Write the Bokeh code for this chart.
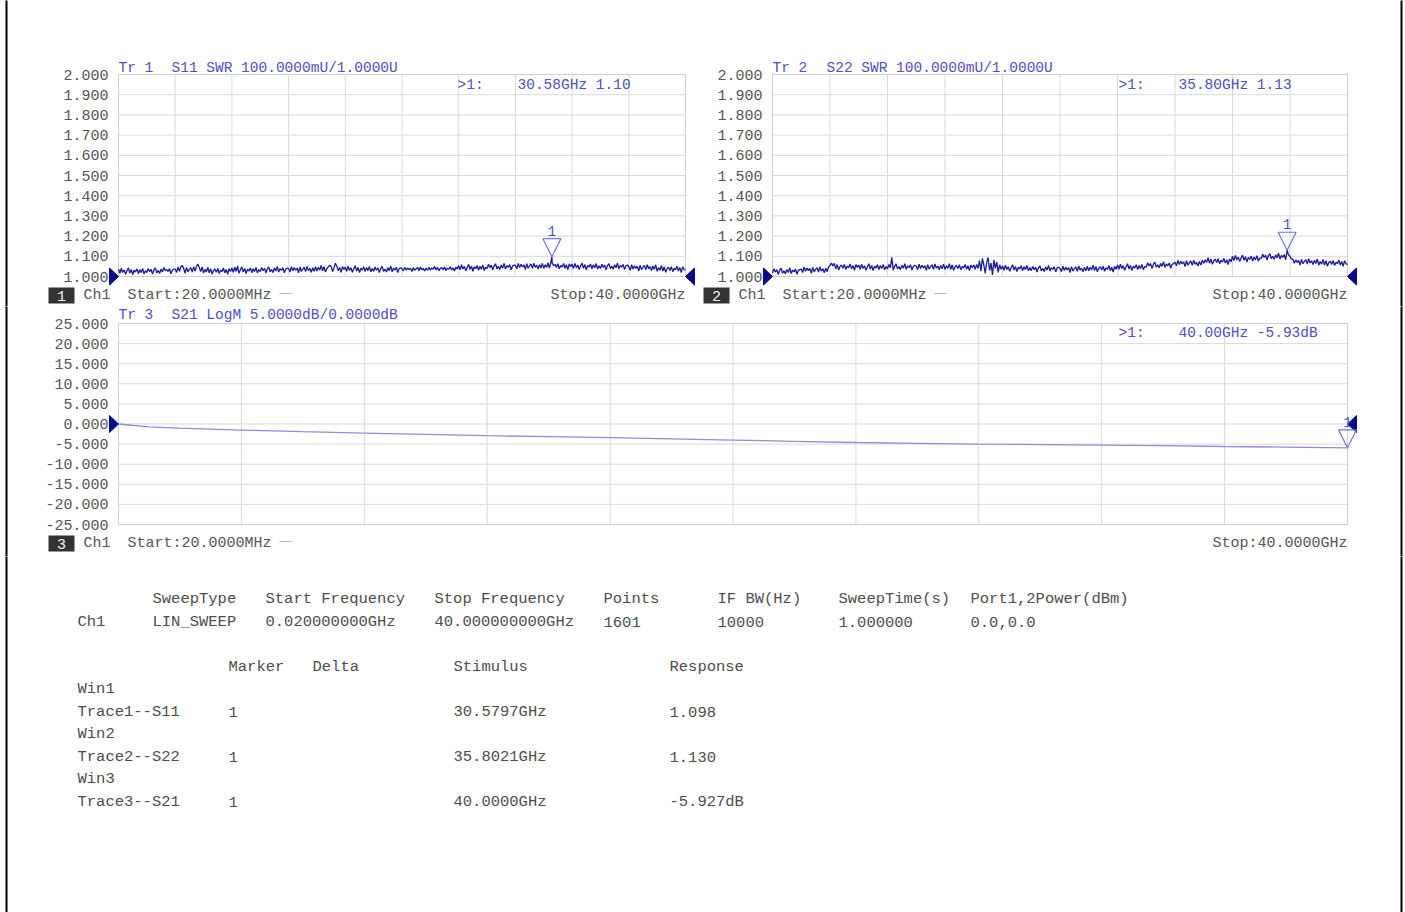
import numpy as np
from bokeh.core.properties import value
from bokeh.embed import file_html
from bokeh.layouts import column, row
from bokeh.models import (ColumnDataSource, FixedTicker, Label, LinearAxis, PolyAnnotation,
                          PrintfTickFormatter, Range1d)
from bokeh.plotting import figure
from bokeh.resources import INLINE

# ---------------- channel 1 sweep settings ----------------
start_ghz = 0.02
stop_ghz = 40.0
sweep_type = "LIN_SWEEP"
sweep_points = 1601
if_bw_hz = 10000
sweep_time_s = 1.0
port_power_dbm = [0.0, 0.0]

# trace samples, one every ~0.1 GHz across the sweep
trace_freq_ghz = np.linspace(start_ghz, stop_ghz, 401)

# Tr 1: S11 SWR
s11_swr = [
    1.037, 1.016, 1.041, 1.020, 1.033, 1.011, 1.028, 1.043, 1.017, 1.035, 1.009, 1.031, 1.022, 1.038, 1.014, 1.034, 1.019, 1.040, 1.013, 1.029,
    1.019, 1.040, 1.024, 1.036, 1.012, 1.033, 1.043, 1.018, 1.030, 1.015, 1.037, 1.022, 1.045, 1.030, 1.034, 1.025, 1.039, 1.013, 1.032, 1.036,
    1.037, 1.020, 1.047, 1.026, 1.048, 1.055, 1.040, 1.016, 1.045, 1.023, 1.035, 1.044, 1.022, 1.048, 1.027, 1.050, 1.062, 1.045, 1.024, 1.047,
    1.017, 1.035, 1.022, 1.045, 1.018, 1.039, 1.012, 1.030, 1.037, 1.021, 1.040, 1.015, 1.032, 1.024, 1.042, 1.018, 1.035, 1.011, 1.039, 1.025,
    1.042, 1.021, 1.046, 1.025, 1.052, 1.016, 1.033, 1.048, 1.022, 1.040, 1.014, 1.036, 1.027, 1.043, 1.019, 1.039, 1.024, 1.045, 1.018, 1.034,
    1.024, 1.045, 1.029, 1.041, 1.017, 1.038, 1.048, 1.023, 1.035, 1.020, 1.042, 1.027, 1.050, 1.022, 1.039, 1.030, 1.044, 1.018, 1.037, 1.041,
    1.039, 1.022, 1.049, 1.028, 1.044, 1.031, 1.042, 1.018, 1.047, 1.025, 1.037, 1.046, 1.024, 1.050, 1.029, 1.040, 1.021, 1.043, 1.026, 1.049,
    1.027, 1.045, 1.032, 1.055, 1.028, 1.049, 1.022, 1.040, 1.047, 1.056, 1.050, 1.025, 1.042, 1.066, 1.052, 1.028, 1.045, 1.021, 1.049, 1.035,
    1.047, 1.026, 1.051, 1.030, 1.043, 1.021, 1.038, 1.053, 1.027, 1.045, 1.019, 1.041, 1.032, 1.048, 1.024, 1.044, 1.029, 1.050, 1.023, 1.039,
    1.026, 1.047, 1.031, 1.043, 1.019, 1.040, 1.050, 1.025, 1.037, 1.022, 1.044, 1.029, 1.052, 1.024, 1.041, 1.032, 1.046, 1.020, 1.039, 1.043,
    1.039, 1.028, 1.046, 1.032, 1.043, 1.034, 1.041, 1.025, 1.045, 1.030, 1.038, 1.044, 1.029, 1.047, 1.033, 1.040, 1.027, 1.042, 1.031, 1.046,
    1.031, 1.043, 1.035, 1.050, 1.032, 1.046, 1.028, 1.040, 1.045, 1.034, 1.047, 1.030, 1.041, 1.036, 1.048, 1.032, 1.043, 1.027, 1.046, 1.037,
    1.054, 1.033, 1.058, 1.037, 1.050, 1.028, 1.045, 1.060, 1.034, 1.052, 1.026, 1.048, 1.039, 1.055, 1.031, 1.051, 1.036, 1.057, 1.030, 1.046,
    1.039, 1.060, 1.044, 1.056, 1.032, 1.053, 1.063, 1.038, 1.050, 1.035, 1.057, 1.042, 1.065, 1.037, 1.054, 1.045, 1.059, 1.033, 1.052, 1.056,
    1.055, 1.038, 1.065, 1.044, 1.060, 1.047, 1.058, 1.034, 1.063, 1.041, 1.053, 1.062, 1.040, 1.066, 1.045, 1.056, 1.037, 1.059, 1.042, 1.065,
    1.040, 1.058, 1.045, 1.068, 1.041, 1.070, 1.066, 1.053, 1.060, 1.044, 1.063, 1.038, 1.055, 1.047, 1.065, 1.041, 1.058, 1.034, 1.062, 1.048,
    1.061, 1.040, 1.065, 1.044, 1.057, 1.035, 1.052, 1.067, 1.041, 1.059, 1.033, 1.055, 1.046, 1.062, 1.038, 1.058, 1.043, 1.064, 1.037, 1.053,
    1.040, 1.061, 1.045, 1.057, 1.033, 1.054, 1.064, 1.039, 1.051, 1.036, 1.058, 1.043, 1.066, 1.038, 1.055, 1.046, 1.060, 1.034, 1.053, 1.057,
    1.048, 1.031, 1.058, 1.037, 1.053, 1.040, 1.051, 1.027, 1.056, 1.034, 1.046, 1.055, 1.033, 1.059, 1.038, 1.049, 1.030, 1.052, 1.035, 1.058,
    1.026, 1.044, 1.031, 1.054, 1.027, 1.048, 1.021, 1.039, 1.046, 1.030, 1.049, 1.024, 1.041, 1.033, 1.051, 1.027, 1.044, 1.020, 1.048, 1.034,
    1.033,
]

# Tr 2: S22 SWR
s22_swr = [
    1.017, 1.038, 1.022, 1.034, 1.010, 1.031, 1.041, 1.016, 1.028, 1.013, 1.035, 1.020, 1.043, 1.015, 1.032, 1.023, 1.037, 1.011, 1.030, 1.034,
    1.037, 1.020, 1.047, 1.026, 1.042, 1.029, 1.040, 1.016, 1.045, 1.023, 1.035, 1.044, 1.022, 1.048, 1.027, 1.038, 1.019, 1.041, 1.024, 1.047,
    1.055, 1.066, 1.052, 1.065, 1.038, 1.059, 1.032, 1.050, 1.057, 1.041, 1.060, 1.035, 1.052, 1.044, 1.062, 1.038, 1.055, 1.031, 1.059, 1.045,
    1.057, 1.036, 1.061, 1.040, 1.053, 1.031, 1.048, 1.063, 1.037, 1.055, 1.029, 1.051, 1.042, 1.058, 1.034, 1.054, 1.039, 1.060, 1.033, 1.049,
    1.038, 1.059, 1.043, 1.095, 1.031, 1.052, 1.062, 1.037, 1.049, 1.034, 1.056, 1.041, 1.064, 1.036, 1.053, 1.044, 1.058, 1.032, 1.051, 1.055,
    1.051, 1.034, 1.061, 1.040, 1.056, 1.043, 1.054, 1.030, 1.059, 1.037, 1.049, 1.058, 1.036, 1.062, 1.041, 1.052, 1.033, 1.055, 1.038, 1.061,
    1.035, 1.053, 1.040, 1.063, 1.036, 1.057, 1.030, 1.048, 1.055, 1.039, 1.058, 1.033, 1.050, 1.042, 1.060, 1.036, 1.053, 1.029, 1.057, 1.043,
    1.057, 1.036, 1.060, 1.040, 1.078, 1.026, 1.090, 1.058, 1.015, 1.070, 1.094, 1.030, 1.066, 1.008, 1.082, 1.040, 1.072, 1.020, 1.058, 1.036,
    1.052, 1.031, 1.056, 1.035, 1.048, 1.026, 1.043, 1.058, 1.032, 1.050, 1.024, 1.046, 1.037, 1.053, 1.029, 1.049, 1.034, 1.055, 1.028, 1.044,
    1.029, 1.050, 1.034, 1.046, 1.022, 1.043, 1.053, 1.028, 1.040, 1.025, 1.047, 1.032, 1.055, 1.027, 1.044, 1.035, 1.049, 1.023, 1.042, 1.046,
    1.041, 1.024, 1.051, 1.030, 1.046, 1.033, 1.044, 1.020, 1.049, 1.027, 1.039, 1.048, 1.026, 1.052, 1.031, 1.042, 1.023, 1.045, 1.028, 1.051,
    1.028, 1.046, 1.033, 1.056, 1.029, 1.050, 1.023, 1.041, 1.048, 1.032, 1.051, 1.026, 1.043, 1.035, 1.053, 1.029, 1.046, 1.022, 1.050, 1.036,
    1.057, 1.036, 1.061, 1.040, 1.053, 1.031, 1.048, 1.063, 1.037, 1.055, 1.029, 1.051, 1.042, 1.058, 1.034, 1.054, 1.039, 1.060, 1.033, 1.049,
    1.047, 1.068, 1.052, 1.064, 1.040, 1.061, 1.071, 1.046, 1.058, 1.043, 1.065, 1.050, 1.073, 1.045, 1.062, 1.053, 1.067, 1.041, 1.060, 1.064,
    1.070, 1.053, 1.080, 1.059, 1.075, 1.062, 1.073, 1.049, 1.078, 1.056, 1.068, 1.077, 1.055, 1.081, 1.060, 1.071, 1.052, 1.074, 1.057, 1.080,
    1.065, 1.083, 1.070, 1.093, 1.066, 1.087, 1.060, 1.078, 1.085, 1.069, 1.088, 1.063, 1.080, 1.072, 1.090, 1.066, 1.083, 1.059, 1.087, 1.073,
    1.100, 1.079, 1.104, 1.083, 1.096, 1.074, 1.091, 1.106, 1.080, 1.098, 1.072, 1.094, 1.085, 1.101, 1.077, 1.097, 1.082, 1.103, 1.076, 1.092,
    1.089, 1.110, 1.094, 1.106, 1.082, 1.103, 1.113, 1.088, 1.100, 1.085, 1.107, 1.092, 1.115, 1.087, 1.104, 1.095, 1.109, 1.083, 1.130, 1.106,
    1.100, 1.086, 1.087, 1.066, 1.082, 1.069, 1.080, 1.056, 1.085, 1.063, 1.075, 1.084, 1.062, 1.088, 1.067, 1.078, 1.059, 1.081, 1.064, 1.087,
    1.056, 1.074, 1.061, 1.084, 1.057, 1.078, 1.051, 1.069, 1.076, 1.060, 1.079, 1.054, 1.071, 1.063, 1.081, 1.057, 1.074, 1.050, 1.078, 1.064,
    1.058,
]

# Tr 3: S21 LogM (dB)
s21_freq_ghz = [0.02, 1.0, 2.0, 4.0, 6.0, 8.0, 10.0, 12.0, 14.0, 16.0, 18.0,
                20.0, 22.0, 24.0, 26.0, 28.0, 30.0, 32.0, 34.0, 36.0, 38.0, 40.0]
s21_db = [0.0, -0.70, -1.05, -1.50, -1.90, -2.25, -2.60, -2.90, -3.15, -3.40, -3.70,
          -4.00, -4.30, -4.60, -4.80, -5.00, -5.12, -5.25, -5.40, -5.60, -5.75, -5.927]

# marker 1 on each trace
marker_freq_ghz = [30.5797, 35.8021, 40.0000]
marker_response = [1.098, 1.130, -5.927]

# ---------------- styling ----------------
FONT = "Liberation Mono"
TXT = "15px"
TITLE_TXT = "14.5px"
TABLE_TXT = "15.5px"
GRID = "#d9d9d9"
TRACE_DARK = "#1a1a9c"
TRACE_LIGHT = "#8c8ce0"
BLUE_TXT = "#4f4fc6"
MARKER_LINE = "#7474d4"
REF_FILL = "#0a0a8c"
GRAY_TXT = "#555555"
PAGE_W, PAGE_H = 1405, 912


def with_marker(fx, vals, mf, mv):
    fx = np.asarray(fx, dtype=float)
    vals = np.asarray(vals, dtype=float)
    hit = np.isclose(fx, mf)
    if hit.any():
        vals = vals.copy()
        vals[hit] = mv
        return fx, vals
    k = int(np.searchsorted(fx, mf))
    return np.insert(fx, k, mf), np.insert(vals, k, mv)


class Panel:
    """One trace window. The figure canvas is all frame; its ranges are stretched so the
    grid box lands where it belongs and page pixels map linearly onto data."""

    def __init__(self, fig_box, frame_box, y_lo, y_hi, y_step):
        self.gx, self.gy, self.gw, self.gh = fig_box
        self.fl, self.ft, self.fr, self.fb = frame_box
        self.y_lo, self.y_hi = y_lo, y_hi
        sx = (stop_ghz - start_ghz) / (self.fr - self.fl)
        sy = (y_hi - y_lo) / (self.fb - self.ft)
        xr = Range1d(start_ghz - (self.fl - self.gx) * sx, stop_ghz + (self.gx + self.gw - self.fr) * sx)
        yr = Range1d(y_lo - (self.gy + self.gh - self.fb) * sy, y_hi + (self.ft - self.gy) * sy)
        p = figure(width=self.gw, height=self.gh, title=None,
                   toolbar_location=None, output_backend="svg",
                   x_range=xr, y_range=yr, x_axis_location=None, y_axis_location=None,
                   min_border=0, outline_line_color=None,
                   background_fill_color="white", border_fill_color="white")
        p.grid.visible = False
        self.p = p

        n_div = int(round((y_hi - y_lo) / y_step))
        yticks = [y_lo + k * y_step for k in range(n_div + 1)]
        span = stop_ghz - start_ghz
        xticks = [start_ghz + k * span / 10 for k in range(11)]

        # grid box
        p.segment(x0=xticks[1:-1], y0=[y_lo] * 9, x1=xticks[1:-1], y1=[y_hi] * 9,
                  line_color=GRID, line_width=1)
        p.segment(x0=[start_ghz] * (n_div - 1), y0=yticks[1:-1], x1=[stop_ghz] * (n_div - 1),
                  y1=yticks[1:-1], line_color=GRID, line_width=1)
        p.quad(left=[start_ghz], right=[stop_ghz], bottom=[y_lo], top=[y_hi],
               fill_alpha=0, line_color="#cfcfcf", line_width=1)

        # value scale pinned to the left edge of the grid box
        ax = LinearAxis(fixed_location=start_ghz,
                        ticker=FixedTicker(ticks=yticks),
                        formatter=PrintfTickFormatter(format="%.3f"))
        ax.axis_line_color = None
        ax.major_tick_line_color = None
        ax.minor_tick_line_color = None
        ax.major_tick_out = 0
        ax.major_tick_in = 0
        ax.major_label_standoff = 10
        ax.major_label_text_font = FONT
        ax.major_label_text_font_size = TXT
        ax.major_label_text_color = GRAY_TXT
        p.add_layout(ax, "left")
        self.borders()

    # page pixel <-> data
    def dx(self, px):
        return start_ghz + (px - self.fl) / (self.fr - self.fl) * (stop_ghz - start_ghz)

    def dy(self, py):
        return self.y_hi - (py - self.ft) / (self.fb - self.ft) * (self.y_hi - self.y_lo)

    def px(self, x):
        return self.fl + (x - start_ghz) / (stop_ghz - start_ghz) * (self.fr - self.fl)

    def py(self, y):
        return self.ft + (self.y_hi - y) / (self.y_hi - self.y_lo) * (self.fb - self.ft)

    def label(self, x, y, text, color, size=TITLE_TXT, align="left"):
        self.p.add_layout(Label(x=self.dx(x), y=self.dy(y), text=text, text_font=FONT,
                                text_font_size=size, text_color=color, text_align=align,
                                text_baseline="middle"))

    def poly(self, xs, ys, fill=None, line=None, width=1.0):
        self.p.add_layout(PolyAnnotation(xs=[self.dx(v) for v in xs], ys=[self.dy(v) for v in ys],
                                         fill_color=fill, fill_alpha=1.0 if fill else 0.0,
                                         line_color=line, line_width=width,
                                         line_alpha=1.0 if line else 0.0))

    def borders(self):
        top, bot = self.gy - 2, self.gy + self.gh + 2
        if self.gx == 0:
            self.poly([5, 7, 7, 5], [top, top, bot, bot], fill="black")
        if self.gx + self.gw == PAGE_W:
            self.poly([1400, 1402, 1402, 1400], [top, top, bot, bot], fill="black")

    def ref_arrows(self, ref):
        y = self.py(ref)
        self.poly([self.fl - 9, self.fl, self.fl - 9], [y - 8.5, y, y + 8.5], fill=REF_FILL, line=REF_FILL)
        self.poly([self.fr + 9, self.fr, self.fr + 9], [y - 8.5, y, y + 8.5], fill=REF_FILL, line=REF_FILL)

    def marker(self, mf, mv):
        mx, my = self.px(mf), self.py(mv)
        self.poly([mx - 9, mx + 9, mx], [my - 18, my - 18, my], line=MARKER_LINE, width=1.2)
        self.label(mx, my - 26, "1", BLUE_TXT, align="center")

    def header(self, tr, rest, x2, y, readout_x, readout_y, readout):
        self.label(self.fl, y, tr, BLUE_TXT)
        self.label(x2, y, rest, BLUE_TXT)
        self.label(readout_x, readout_y, ">1:", BLUE_TXT)
        self.label(readout_x + 60, readout_y, readout, BLUE_TXT)

    def footer(self, box_x, y, num):
        self.poly([box_x, box_x + 26, box_x + 26, box_x], [y - 8, y - 8, y + 8, y + 8], fill="#333333")
        self.label(box_x + 13, y, str(num), "#f2f2f2", size=TXT, align="center")
        self.label(box_x + 35, y, "Ch1", GRAY_TXT, size=TXT)
        self.label(box_x + 79, y, f"Start:{start_ghz * 1000:.4f}MHz", GRAY_TXT, size=TXT)
        self.poly([box_x + 231, box_x + 243, box_x + 243, box_x + 231], [y - 2.5, y - 2.5, y - 1.5, y - 1.5],
                  fill="#b4b4e2")
        self.label(self.fr, y, f"Stop:{stop_ghz:.4f}GHz", GRAY_TXT, size=TXT, align="right")


ROW1_H, ROW2_H = 306, 250
TABLE_H = PAGE_H - ROW1_H - ROW2_H

# ---- window 1: S11 SWR ----
w1 = Panel((0, 0, 697, ROW1_H), (118, 74, 685, 276), 1.0, 2.0, 0.1)
fx, fy = with_marker(trace_freq_ghz, s11_swr, marker_freq_ghz[0], marker_response[0])
w1.p.line(fx, fy, color=TRACE_DARK, line_width=1.3)
w1.ref_arrows(1.0)
w1.marker(marker_freq_ghz[0], marker_response[0])
w1.header("Tr 1", "S11 SWR 100.0000mU/1.0000U", 171, 67,
          457, 84, f"{marker_freq_ghz[0]:.2f}GHz {marker_response[0]:.2f}")
w1.footer(48, 295, 1)

# ---- window 2: S22 SWR ----
w2 = Panel((697, 0, PAGE_W - 697, ROW1_H), (772, 74, 1347, 276), 1.0, 2.0, 0.1)
fx, fy = with_marker(trace_freq_ghz, s22_swr, marker_freq_ghz[1], marker_response[1])
w2.p.line(fx, fy, color=TRACE_DARK, line_width=1.3)
w2.ref_arrows(1.0)
w2.marker(marker_freq_ghz[1], marker_response[1])
w2.header("Tr 2", "S22 SWR 100.0000mU/1.0000U", 826, 67,
          1118, 84, f"{marker_freq_ghz[1]:.2f}GHz {marker_response[1]:.2f}")
w2.footer(703, 295, 2)

# ---- window 3: S21 LogM ----
w3 = Panel((0, ROW1_H, PAGE_W, ROW2_H), (118, 323, 1347, 524), -25.0, 25.0, 5.0)
fx, fy = with_marker(s21_freq_ghz, s21_db, marker_freq_ghz[2], marker_response[2])
w3.p.line(fx, fy, color=TRACE_LIGHT, line_width=1.3)
w3.ref_arrows(0.0)
w3.marker(marker_freq_ghz[2], marker_response[2])
w3.header("Tr 3", "S21 LogM 5.0000dB/0.0000dB", 171, 314,
          1118, 332, f"{marker_freq_ghz[2]:.2f}GHz {marker_response[2]:.2f}dB")
w3.footer(48, 543, 3)

# ---- channel / marker summary table ----
channel_headers = ["SweepType", "Start Frequency", "Stop Frequency", "Points",
                   "IF BW(Hz)", "SweepTime(s)", "Port1,2Power(dBm)"]
channel_values = [sweep_type, f"{start_ghz:.9f}GHz", f"{stop_ghz:.9f}GHz", str(sweep_points),
                  str(if_bw_hz), f"{sweep_time_s:.6f}", ",".join(f"{v:.1f}" for v in port_power_dbm)]
channel_cols = [152, 265, 434, 603, 717, 838, 970]

marker_headers = ["Marker", "Delta", "Stimulus", "Response"]
marker_cols = [228, 312, 453, 669]
trace_params = ["S11", "S22", "S21"]
resp_units = ["", "", "dB"]

tx, ty, tt = [], [], []
for x, t in zip(channel_cols, channel_headers):
    tx.append(x); ty.append(598); tt.append(t)
tx.append(77); ty.append(621); tt.append("Ch1")
for x, t in zip(channel_cols, channel_values):
    tx.append(x); ty.append(621); tt.append(t)
for x, t in zip(marker_cols, marker_headers):
    tx.append(x); ty.append(666); tt.append(t)
for i, name in enumerate(trace_params):
    yw = 688 + i * 45
    tx.append(77); ty.append(yw); tt.append(f"Win{i + 1}")
    tx.append(77); ty.append(yw + 23); tt.append(f"Trace{i + 1}--{name}")
    tx.append(marker_cols[0]); ty.append(yw + 23); tt.append("1")
    tx.append(marker_cols[2]); ty.append(yw + 23); tt.append(f"{marker_freq_ghz[i]:.4f}GHz")
    tx.append(marker_cols[3]); ty.append(yw + 23); tt.append(f"{marker_response[i]:.3f}{resp_units[i]}")

tbl = figure(width=PAGE_W, height=TABLE_H, title=None, toolbar_location=None, output_backend="svg",
             x_range=Range1d(0, PAGE_W), y_range=Range1d(PAGE_H, ROW1_H + ROW2_H),
             x_axis_location=None, y_axis_location=None, min_border=0,
             outline_line_color=None, background_fill_color="white", border_fill_color="white")
tbl.grid.visible = False
tbl.text(x="x", y="y", text="t", source=ColumnDataSource(dict(x=tx, y=ty, t=tt)),
         text_font=value(FONT), text_font_size=value(TABLE_TXT), text_color="#4d4d4d",
         text_baseline="middle", text_align="left")
tbl.quad(left=[5, 1400], right=[7, 1402], bottom=[PAGE_H + 2, PAGE_H + 2], top=[ROW1_H + ROW2_H - 2] * 2,
         color="black", line_alpha=0)

layout = column(row(w1.p, w2.p), w3.p, tbl)
open("out.html", "w").write(file_html(layout, INLINE))
